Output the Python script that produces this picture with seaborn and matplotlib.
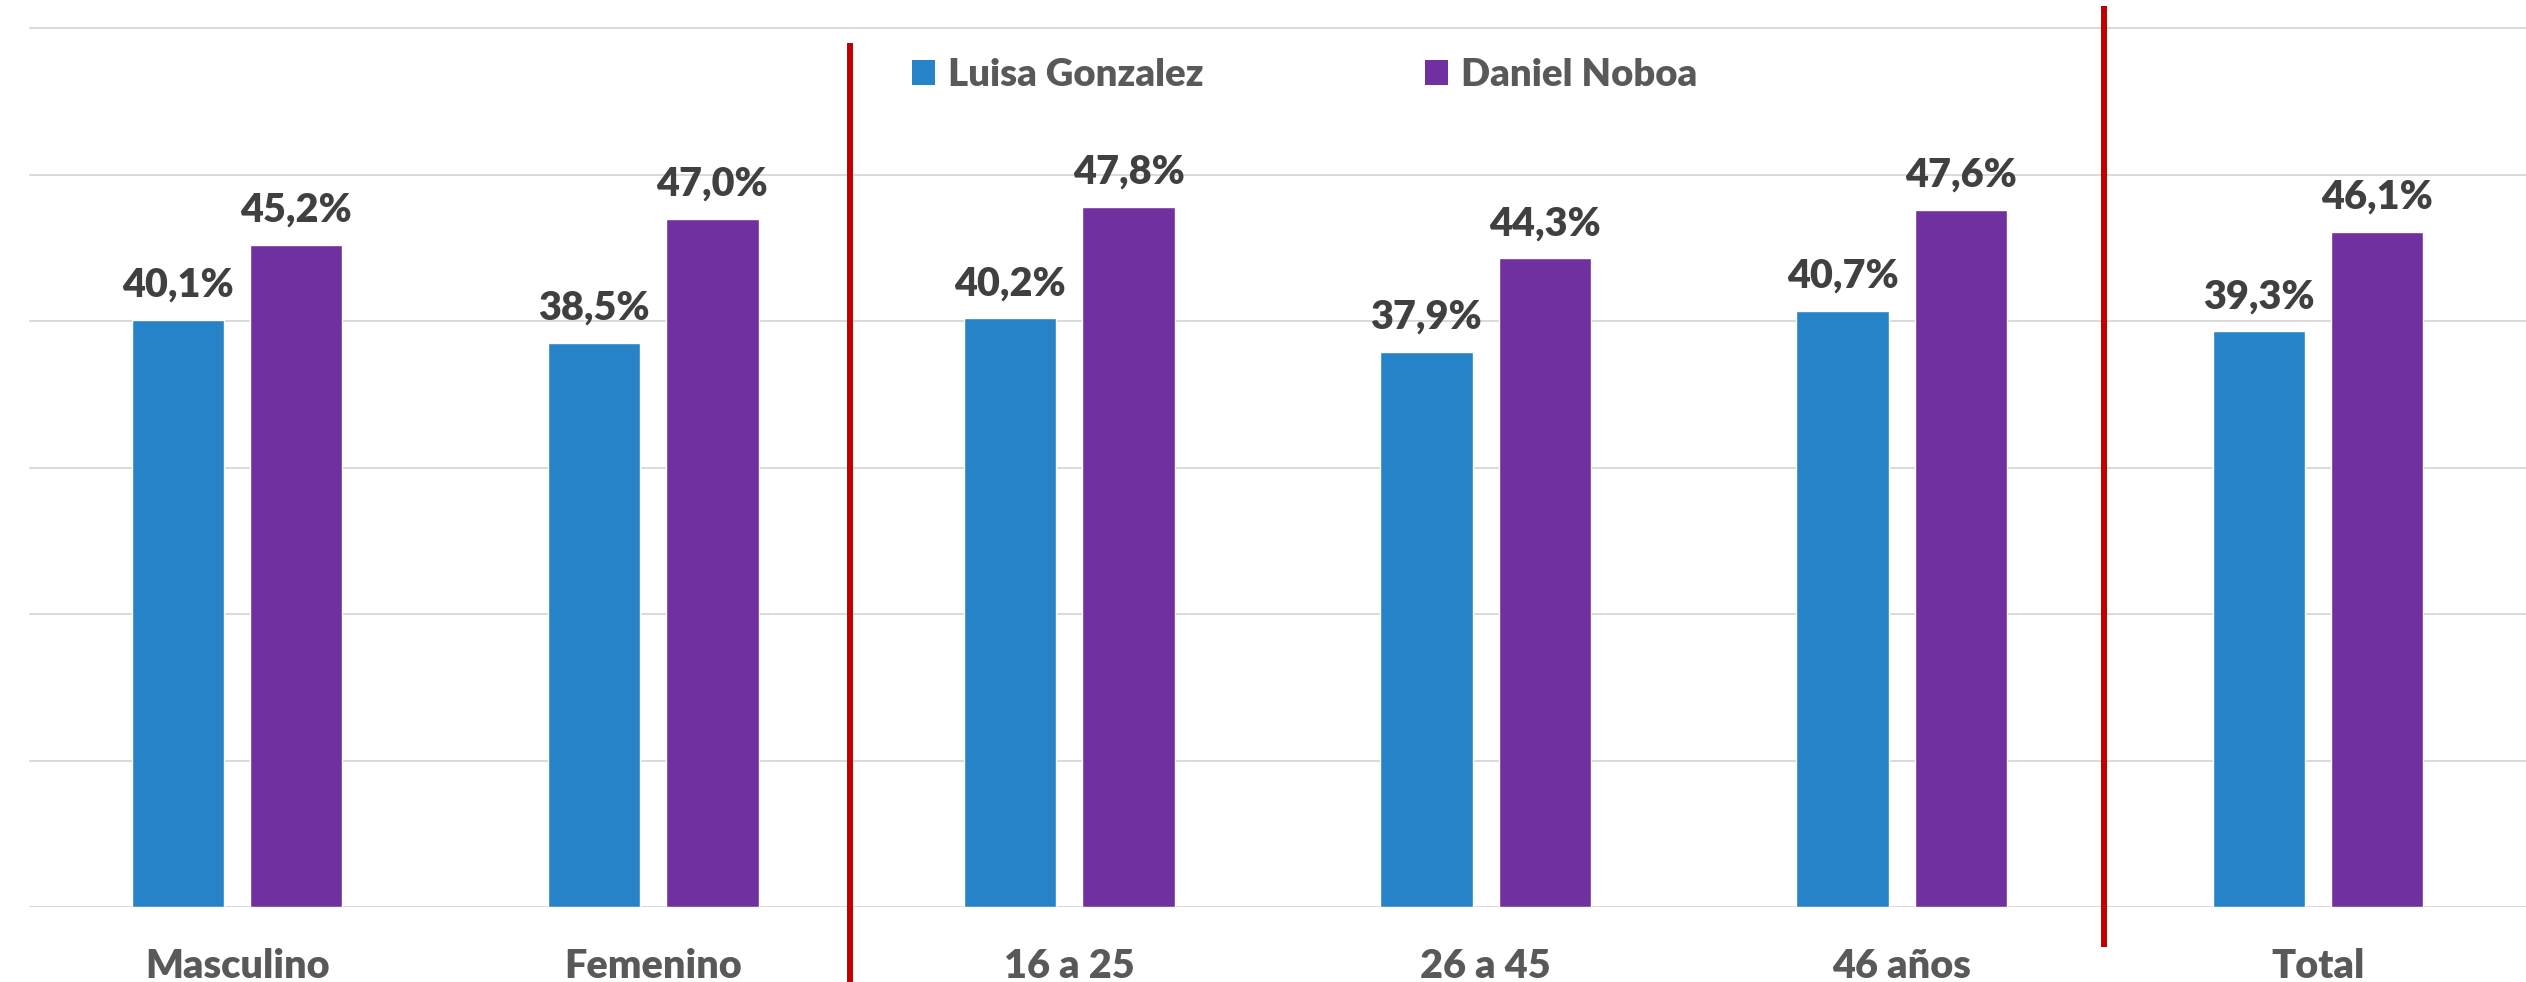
import pandas as pd
import matplotlib.pyplot as plt
import matplotlib.transforms as mtransforms
from matplotlib.patches import Patch
import seaborn as sns

# Datos
grupos = ['Masculino', 'Femenino', '16 a 25', '26 a 45', '46 años', 'Total']
luisa = [40.1, 38.5, 40.2, 37.9, 40.7, 39.3]
noboa = [45.2, 47.0, 47.8, 44.3, 47.6, 46.1]
candidatos = ['Luisa Gonzalez', 'Daniel Noboa']
colores = ['#2783C7', '#7030A0']
separadores = [1.473, 4.487]

df = pd.DataFrame({
    'grupo': grupos * 2,
    'pct': luisa + noboa,
    'candidato': [candidatos[0]] * len(grupos) + [candidatos[1]] * len(grupos),
})

sns.set_style('white')
plt.rcParams['font.family'] = ['Lato', 'DejaVu Sans']

W, H = 2526, 982
fig = plt.figure(figsize=(W / 100, H / 100), dpi=100)
ax = fig.add_axes([29 / W, 75 / H, 1 - 29 / W, (907 - 27.4) / H])

sns.barplot(data=df, x='grupo', y='pct', hue='candidato', order=grupos,
            hue_order=candidatos, palette=colores, width=0.569, gap=0.22,
            saturation=1, errorbar=None, legend=False, ax=ax)

ax.set_xlim(-0.5, 5.5)
ax.set_ylim(0, 60.05)
ax.set_yticks(range(0, 61, 10))
ax.set_yticklabels([])
ax.tick_params(axis='y', length=0)
ax.tick_params(axis='x', length=0, pad=29.5, labelsize=28.5, labelcolor='#595959')
for lbl in ax.get_xticklabels():
    lbl.set_fontweight('heavy')
ax.set_xlabel('')
ax.set_ylabel('')
ax.yaxis.grid(True, color='#D9D9D9', linewidth=1.4)
ax.set_axisbelow(True)
sns.despine(ax=ax, left=True, bottom=True)

# Etiquetas de datos
for cont in ax.containers:
    for bar in cont:
        v = bar.get_height()
        ax.annotate(f'{v:.1f}'.replace('.', ',') + '%',
                    (bar.get_x() + bar.get_width() / 2, v),
                    xytext=(0, 23), textcoords='offset pixels',
                    ha='center', va='baseline', fontsize=28.5,
                    fontweight='heavy', color='#404040')

# Líneas rojas separadoras
tr = mtransforms.blended_transform_factory(ax.transData, fig.transFigure)
ax.plot([separadores[0]] * 2, [0, 1 - 43 / H], color='#C00000', lw=4.3,
        transform=tr, clip_on=False, solid_capstyle='butt')
ax.plot([separadores[1]] * 2, [1 - 947 / H, 1 - 6 / H], color='#C00000', lw=4.3,
        transform=tr, clip_on=False, solid_capstyle='butt')

# Leyenda
handles = [Patch(facecolor=c, edgecolor='none') for c in colores]
leg = fig.legend(handles, candidatos, loc='center left',
                 bbox_to_anchor=(912 / W, 1 - 75 / H), ncol=2, frameon=False,
                 fontsize=27.5, handlelength=0.6, handleheight=0.6,
                 handletextpad=0.34, columnspacing=5.8, borderpad=0,
                 borderaxespad=0)
for t in leg.get_texts():
    t.set_color('#595959')
    t.set_fontweight('heavy')

fig.savefig('out.png', dpi=100)
